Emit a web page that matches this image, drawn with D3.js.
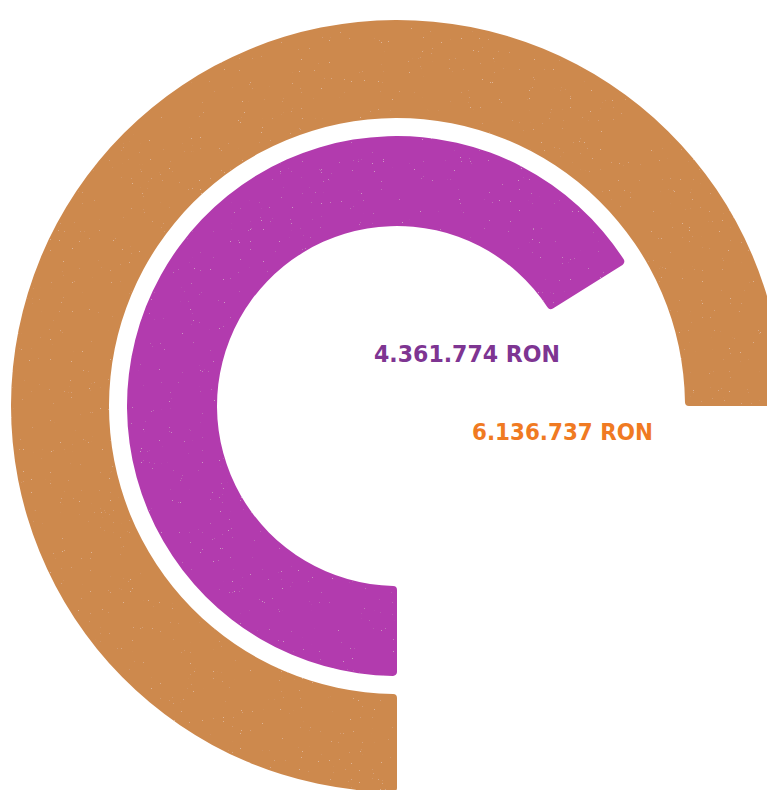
<!DOCTYPE html>
<html>
<head>
<meta charset="utf-8">
<script src="https://cdn.jsdelivr.net/npm/d3@7"></script>
<style>
  html, body { margin: 0; padding: 0; background: #ffffff; }
  svg { display: block; }
</style>
</head>
<body>
<svg id="chart" width="767" height="790"></svg>
<script>
// ---- data ----
const categories = ["Outer", "Inner"];
const values = [6136737, 4361774];
const labels = ["6.136.737 RON", "4.361.774 RON"];
const arcColors = ["#CD894E", "#B23BAE"];
const labelColors = ["#F07A22", "#7E3592"];

// ---- layout ----
const cx = 397, cy = 406;
const ringRadii = { Outer: [288, 386], Inner: [180, 270] };
const labelPos = [[472, 440], [374, 362]];
const svg = d3.select("#chart");

const defs = svg.append("defs");
const filt = defs.append("filter").attr("id", "grain")
  .attr("x", "0").attr("y", "0").attr("width", "1").attr("height", "1");
filt.append("feTurbulence").attr("type", "fractalNoise").attr("baseFrequency", "1.1")
  .attr("numOctaves", "2").attr("seed", "7").attr("result", "noise");
filt.append("feColorMatrix").attr("in", "noise").attr("type", "matrix")
  .attr("values", "0 0 0 0 1  0 0 0 0 0.95  0 0 0 0 0.85  16 0 0 0 -12.4").attr("result", "dots");
filt.append("feComponentTransfer").attr("in", "dots").attr("result", "dots2")
  .append("feFuncA").attr("type", "linear").attr("slope", "0.3");
filt.append("feComposite").attr("in", "dots2").attr("in2", "SourceGraphic")
  .attr("operator", "in").attr("result", "d3c");
const merge = filt.append("feMerge");
merge.append("feMergeNode").attr("in", "SourceGraphic");
merge.append("feMergeNode").attr("in", "d3c");

// angular scale (start at bottom, sweep clockwise)
const angle = d3.scalePow().exponent(0.37)
  .domain([0, d3.max(values)])
  .range([0, 1.5 * Math.PI]);

const arc = d3.arc().cornerRadius(4);

const g = svg.append("g").attr("transform", `translate(${cx},${cy})`);

g.selectAll("path.bar")
  .data(categories.map((c, i) => ({ c, v: values[i], i })))
  .join("path")
  .attr("class", "bar")
  .attr("fill", d => arcColors[d.i])
  .attr("filter", "url(#grain)")
  .attr("d", d => arc({
    innerRadius: ringRadii[d.c][0],
    outerRadius: ringRadii[d.c][1],
    startAngle: Math.PI,
    endAngle: Math.PI + angle(d.v)
  }));

// labels
svg.selectAll("text.lbl")
  .data(labels)
  .join("text")
  .attr("class", "lbl")
  .attr("x", (d, i) => labelPos[i][0])
  .attr("y", (d, i) => labelPos[i][1])
  .attr("fill", (d, i) => labelColors[i])
  .attr("font-family", "'DejaVu Sans', sans-serif")
  .attr("font-weight", "bold")
  .attr("font-size", 23)
  .attr("textLength", (d, i) => i === 0 ? 181 : 186)
  .attr("lengthAdjust", "spacingAndGlyphs")
  .text(d => d);
</script>
</body>
</html>
